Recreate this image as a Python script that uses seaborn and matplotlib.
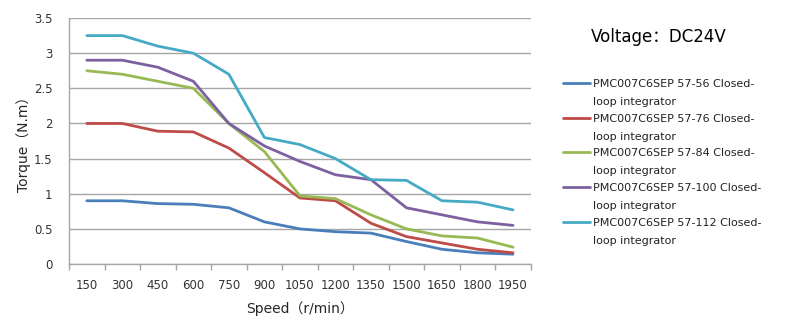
import matplotlib
matplotlib.use("Agg")
import matplotlib.pyplot as plt
import seaborn as sns
import pandas as pd
import numpy as np
from matplotlib.ticker import FixedLocator
from matplotlib.legend_handler import HandlerLine2D
from matplotlib.lines import Line2D

speeds = ["150", "300", "450", "600", "750", "900", "1050", "1200", "1350", "1500", "1650", "1800", "1950"]
series_names = [
    "PMC007C6SEP 57-56 Closed-\nloop integrator",
    "PMC007C6SEP 57-76 Closed-\nloop integrator",
    "PMC007C6SEP 57-84 Closed-\nloop integrator",
    "PMC007C6SEP 57-100 Closed-\nloop integrator",
    "PMC007C6SEP 57-112 Closed-\nloop integrator",
]
torque_56 = [0.9, 0.9, 0.86, 0.85, 0.8, 0.6, 0.5, 0.46, 0.44, 0.32, 0.21, 0.16, 0.14]
torque_76 = [2.0, 2.0, 1.89, 1.88, 1.65, 1.3, 0.94, 0.9, 0.58, 0.39, 0.3, 0.21, 0.16]
torque_84 = [2.75, 2.7, 2.6, 2.5, 2.0, 1.6, 0.97, 0.93, 0.7, 0.5, 0.4, 0.37, 0.24]
torque_100 = [2.9, 2.9, 2.8, 2.6, 2.0, 1.68, 1.46, 1.27, 1.2, 0.8, 0.7, 0.6, 0.55]
torque_112 = [3.25, 3.25, 3.1, 3.0, 2.7, 1.8, 1.7, 1.5, 1.2, 1.19, 0.9, 0.88, 0.77]
colors = ["#4A7EBB", "#BE4B48", "#98B954", "#7D60A0", "#46AAC5"]

all_vals = [torque_56, torque_76, torque_84, torque_100, torque_112]
df = pd.concat(
    [pd.DataFrame({"Speed": speeds, "Torque": v, "Model": n}) for n, v in zip(series_names, all_vals)],
    ignore_index=True,
)

sns.set_style("white")
fam = ["DejaVu Sans", "Noto Sans CJK SC"]
plt.rcParams["font.family"] = fam

fig = plt.figure(figsize=(8.03, 3.22), dpi=100)
ax = fig.add_axes([0.086, 0.18, 0.575, 0.764])

sns.lineplot(data=df, x="Speed", y="Torque", hue="Model", palette=colors,
             linewidth=2.0, sort=False, ax=ax, legend=True)

ax.set_xlim(-0.5, len(speeds) - 0.5)
ax.set_ylim(0, 3.5)
ax.set_yticks(np.arange(0, 3.51, 0.5))
ax.set_yticklabels(["0", "0.5", "1", "1.5", "2", "2.5", "3", "3.5"])
ax.yaxis.grid(True, color="#A6A6A6", linewidth=1.0)
ax.xaxis.grid(False)
ax.set_axisbelow(True)
for s in ["top", "right"]:
    ax.spines[s].set_visible(False)
for s in ["left", "bottom"]:
    ax.spines[s].set_color("#A6A6A6")
    ax.spines[s].set_linewidth(1.0)

ax.xaxis.set_minor_locator(FixedLocator(np.arange(-0.5, len(speeds), 1.0)))
ax.tick_params(axis="x", which="major", length=0, pad=11, labelsize=8.5, colors="#333333")
ax.tick_params(axis="x", which="minor", length=4, color="#A6A6A6", width=1.0, bottom=True)
ax.tick_params(axis="y", length=0, pad=12, labelsize=8.5, colors="#333333")

ax.set_xlabel("Speed（r/min）", fontsize=10, labelpad=6, family=fam)
ax.set_ylabel("Torque（N.m）", fontsize=10, labelpad=2, family=fam)


class TopLineHandler(HandlerLine2D):
    def create_artists(self, legend, orig_handle, xdescent, ydescent, width, height, fontsize, trans):
        line = Line2D([-xdescent, -xdescent + width], [0, 0],
                      color=orig_handle.get_color(), linewidth=orig_handle.get_linewidth())
        line.set_transform(trans)
        line.set_ydata([height * 0.5 + fontsize * 0.9] * 2)
        return [line]


handles, labels = ax.get_legend_handles_labels()
leg = ax.legend(handles, labels, loc="upper left", bbox_to_anchor=(0.695, 0.769),
                bbox_transform=fig.transFigure, frameon=False, fontsize=8,
                handlelength=2.45, handletextpad=0.25, labelspacing=0.61, borderaxespad=0,
                handler_map={Line2D: TopLineHandler()})
for t in leg.get_texts():
    t.set_linespacing(2.0)
    t.set_color("#222222")

fig.text(0.736, 0.885, "Voltage：DC24V", fontsize=12, family=fam, color="black", va="center")

fig.savefig("out.png", dpi=100)
